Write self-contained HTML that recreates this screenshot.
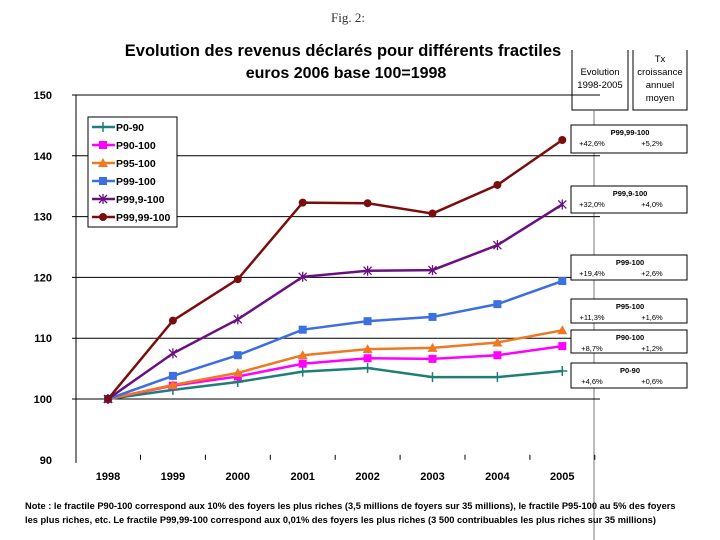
<!DOCTYPE html>
<html><head><meta charset="utf-8"><style>
body{margin:0;background:#fff;width:720px;height:540px;overflow:hidden;font-family:"Liberation Sans",sans-serif}
svg{position:absolute;left:0;top:0}
</style></head><body>
<svg width="720" height="540" id="c">
<text x="348" y="22" font-family="Liberation Serif" font-size="13" text-anchor="middle" fill="#333">Fig. 2:</text>
<text x="343" y="56" font-size="16.5" font-weight="bold" text-anchor="middle">Evolution des revenus déclarés pour différents fractiles</text>
<text x="346" y="78" font-size="16" font-weight="bold" text-anchor="middle">euros 2006 base 100=1998</text>
<g font-size="9.5" text-anchor="middle">
<polyline points="572,50 572,110 628,110 628,50" fill="none" stroke="#000"/>
<text x="600" y="75">Evolution</text><text x="600" y="88">1998-2005</text>
<polyline points="633,50 633,110 687,110 687,50" fill="none" stroke="#000"/>
<text x="660" y="62">Tx</text><text x="660" y="75">croissance</text><text x="660" y="88">annuel</text><text x="660" y="101">moyen</text>
</g>
<line x1="594" y1="110" x2="594" y2="540" stroke="#777"/>
<g id="plot"></g>
<g id="boxes" font-size="7.5" text-anchor="middle"></g>
<text x="25" y="509" font-size="9.3" font-weight="bold">Note : le fractile P90-100 correspond aux 10% des foyers les plus riches (3,5 millions de foyers sur 35 millions), le fractile P95-100 au 5% des foyers</text>
<text x="25" y="523" font-size="9.3" font-weight="bold">les plus riches, etc. Le fractile P99,99-100 correspond aux 0,01% des foyers les plus riches (3 500 contribuables les plus riches sur 35 millions)</text>
</svg>
<script>
const years=["1998","1999","2000","2001","2002","2003","2004","2005"];
const yTicks=[90,100,110,120,130,140,150];
const names=["P0-90","P90-100","P95-100","P99-100","P99,9-100","P99,99-100"];
const sP0=[100,101.5,102.8,104.5,105.1,103.6,103.6,104.6];
const sP90=[100,102.2,103.7,105.8,106.7,106.6,107.2,108.7];
const sP95=[100,102.3,104.3,107.2,108.2,108.4,109.3,111.3];
const sP99=[100,103.8,107.2,111.4,112.8,113.5,115.6,119.4];
const sP999=[100,107.5,113.1,120.1,121.1,121.2,125.3,132.0];
const sP9999=[100,112.9,119.7,132.3,132.2,130.5,135.2,142.6];
const boxEvo=["+4,6%","+8,7%","+11,3%","+19,4%","+32,0%","+42,6%"];
const boxTx=["+0,6%","+1,2%","+1,6%","+2,6%","+4,0%","+5,2%"];
const series=[sP0,sP90,sP95,sP99,sP999,sP9999];
const colors=["#1f7f78","#ff00ff","#f07820","#3c6fe0","#6a1080","#7a0e0e"];
const markers=["plus","square","triangle","square","star","circle"];
const NS="http://www.w3.org/2000/svg";
const X=i=>108+i*64.9, Y=v=>399-(v-100)*6.08;
const g=document.getElementById('plot');
function mk(t,a,p){const e=document.createElementNS(NS,t);for(const k in a)e.setAttribute(k,a[k]);(p||g).appendChild(e);return e;}
yTicks.forEach(v=>{
 if(v>90){const l=mk('line',{x1:72,x2:600,y1:Y(v),y2:Y(v),stroke:'#000','stroke-width':1});
 
 }
 const t=mk('text',{x:52,y:Y(v)+4,'font-size':11,'font-weight':'bold','text-anchor':'end'});t.textContent=v;
 
 
});
mk('line',{x1:76,x2:76,y1:Y(150),y2:Y(89.5),stroke:'#000'});
years.forEach((y,i)=>{
 mk('line',{x1:X(i)+32.5,x2:X(i)+32.5,y1:Y(90)-5,y2:Y(90),stroke:'#000'});
 const t=mk('text',{x:X(i),y:Y(90)+20,'font-size':11,'font-weight':'bold','text-anchor':'middle'});t.textContent=y;
 
 
});
function marker(type,x,y,c,p){
 if(type==='plus'){mk('path',{d:`M${x-5} ${y}h10M${x} ${y-5}v10`,stroke:c,'stroke-width':1.5},p);}
 else if(type==='square'){mk('rect',{x:x-4,y:y-4,width:8,height:8,fill:c},p);}
 else if(type==='triangle'){mk('path',{d:`M${x} ${y-5}L${x+5} ${y+4}L${x-5} ${y+4}Z`,fill:c},p);}
 else if(type==='star'){mk('path',{d:`M${x-4} ${y-4}L${x+4} ${y+4}M${x+4} ${y-4}L${x-4} ${y+4}M${x} ${y-5}v10`,stroke:c,'stroke-width':1.3},p);}
 else mk('circle',{cx:x,cy:y,r:4,fill:c},p);
}
series.forEach((s,k)=>{
 const grp=mk('g',{});
 
 
 mk('polyline',{points:s.map((v,i)=>X(i)+','+Y(v)).join(' '),fill:'none',stroke:colors[k],'stroke-width':2.5},grp);
 s.forEach((v,i)=>marker(markers[k],X(i),Y(v),colors[k],grp));
});
const lg=mk('g',{});


mk('rect',{x:88,y:117,width:89,height:110,fill:'#fff',stroke:'#000'},lg);
names.forEach((n,k)=>{
 const y=127+k*18;
 mk('line',{x1:92,x2:115,y1:y,y2:y,stroke:colors[k],'stroke-width':2.5},lg);
 marker(markers[k],103,y,colors[k],lg);
 const t=mk('text',{x:116,y:y+4,'font-size':10.5,'font-weight':'bold'},lg);t.textContent=n;
});
const bg=document.getElementById('boxes');
const boxY=[363,330,299,255,186,125], boxH=[25,23,24,25,27,28];
names.forEach((n,k)=>{
 const b=mk('g',{},bg);
 
 
 mk('rect',{x:571,y:boxY[k],width:116,height:boxH[k],fill:'#fff',stroke:'#000'},b);
 const t1=mk('text',{x:630,y:boxY[k]+10,'font-weight':'bold'},b);t1.textContent=n;
 const t2=mk('text',{x:592,y:boxY[k]+21},b);t2.textContent=boxEvo[k];
 const t3=mk('text',{x:652,y:boxY[k]+21},b);t3.textContent=boxTx[k];
});
</script>
</body></html>
